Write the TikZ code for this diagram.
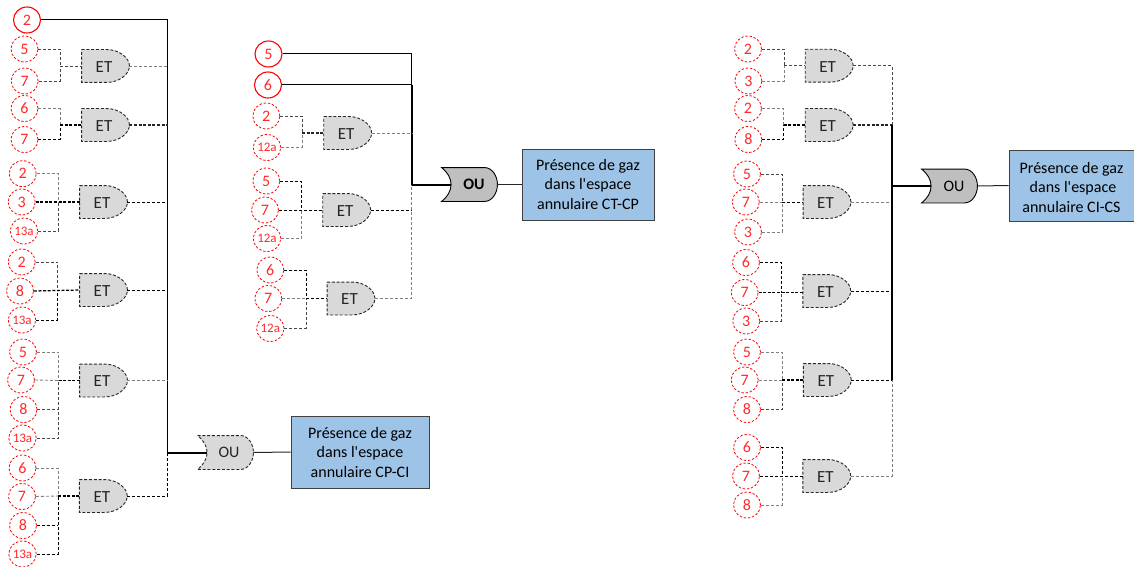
\documentclass[tikz,border=0pt]{standalone}
\usepackage{fontspec}
\setmainfont{Carlito}[Ligatures=TeXOff]
\usetikzlibrary{shapes.geometric}
\makeatletter
\newcommand{\gatecorners}{%
  \southwest \edef\gxa{\the\pgf@x}\edef\gya{\the\pgf@y}%
  \northeast \edef\gxb{\the\pgf@x}\edef\gyb{\the\pgf@y}%
  \pgfmathsetmacro{\gyc}{.5*\gya+.5*\gyb}%
  \edef\gyc{\gyc pt}%
}
\pgfdeclareshape{andgate}{
  \inheritsavedanchors[from=rectangle]
  \inheritanchorborder[from=rectangle]
  \inheritanchor[from=rectangle]{center}
  \inheritanchor[from=rectangle]{west}
  \inheritanchor[from=rectangle]{east}
  \backgroundpath{
    \gatecorners
    \pgfpathmoveto{\pgfpoint{\gxa}{\gyb}}
    \pgfpathlineto{\pgfpoint{\gxa+25pt}{\gyb}}
    \pgfpathcurveto{\pgfpoint{\gxb-10pt}{\gyb}}{\pgfpoint{\gxb}{\gyc+8pt}}{\pgfpoint{\gxb}{\gyc}}
    \pgfpathcurveto{\pgfpoint{\gxb}{\gyc-8pt}}{\pgfpoint{\gxb-10pt}{\gya}}{\pgfpoint{\gxa+25pt}{\gya}}
    \pgfpathlineto{\pgfpoint{\gxa}{\gya}}
    \pgfpathclose
  }
}
\pgfdeclareshape{orgate}{
  \inheritsavedanchors[from=rectangle]
  \inheritanchorborder[from=rectangle]
  \inheritanchor[from=rectangle]{center}
  \inheritanchor[from=rectangle]{west}
  \inheritanchor[from=rectangle]{east}
  \anchor{in}{
    \southwest \pgf@xa=\pgf@x \pgf@ya=\pgf@y
    \northeast \pgf@y=.5\pgf@y \advance\pgf@y by .5\pgf@ya
    \pgf@x=\pgf@xa \advance\pgf@x by 9.5pt
  }
  \backgroundpath{
    \gatecorners
    \pgfpathmoveto{\pgfpoint{\gxa}{\gyb}}
    \pgfpathlineto{\pgfpoint{\gxb-13pt}{\gyb}}
    \pgfpathcurveto{\pgfpoint{\gxb-5pt}{\gyb}}{\pgfpoint{\gxb}{\gyc+8pt}}{\pgfpoint{\gxb}{\gyc}}
    \pgfpathcurveto{\pgfpoint{\gxb}{\gyc-8pt}}{\pgfpoint{\gxb-5pt}{\gya}}{\pgfpoint{\gxb-13pt}{\gya}}
    \pgfpathlineto{\pgfpoint{\gxa}{\gya}}
    \pgfpathcurveto{\pgfpoint{\gxa+12.7pt}{\gya+10pt}}{\pgfpoint{\gxa+12.7pt}{\gyb-10pt}}{\pgfpoint{\gxa}{\gyb}}
    \pgfpathclose
  }
}
\makeatother
\definecolor{redc}{HTML}{FF0000}
\definecolor{redt}{HTML}{FF2A2A}
\definecolor{gatef}{HTML}{D9D9D9}
\definecolor{orf}{HTML}{BFBFBF}
\definecolor{boxf}{HTML}{9DC3E6}
\definecolor{boxb}{HTML}{404040}
\definecolor{inkc}{HTML}{262626}
\definecolor{wgrey}{HTML}{808080}
\tikzset{
  x=1pt,y=-1pt,
  evt/.style={ellipse,draw=redc,fill=white,line width=0.8pt,minimum width=27pt,minimum height=26pt,inner sep=0pt,text=redt,font=\fontsize{16}{16}\selectfont},
  evts/.style={evt,font=\fontsize{13}{13}\selectfont},
  base/.style={evt,line width=1.1pt},
  inter/.style={evt,dash pattern=on 2.4pt off 1.8pt},
  inters/.style={evts,dash pattern=on 2.4pt off 1.8pt},
  etgate/.style={andgate,draw=inkc,fill=gatef,line width=0.9pt,dash pattern=on 3pt off 1.8pt,minimum width=47pt,minimum height=32pt,inner sep=0pt,text=inkc,font=\fontsize{17}{17}\selectfont,execute at begin node={\rule{0pt}{12.9pt}},execute at end node={\hspace*{3pt}}},
  ougate/.style={orgate,draw=black,fill=orf,line width=0.9pt,minimum width=55pt,minimum height=33pt,inner sep=0pt,text=black,font=\fontsize{16}{16}\selectfont},
  result/.style={draw=boxb,fill=boxf,line width=1pt,align=center,inner sep=0pt,text=black,font=\fontsize{16}{19.5}\selectfont},
  wk/.style={draw=black,line width=0.9pt,dash pattern=on 3pt off 2pt},
  wkk/.style={draw=black,line width=1.25pt,dash pattern=on 3pt off 1.6pt},
  wd/.style={draw=inkc!85!white,line width=0.9pt,dash pattern=on 3pt off 2pt},
  wg/.style={draw=wgrey,line width=0.9pt,dash pattern=on 3pt off 2pt},
  solidw/.style={draw=black,line width=1pt},
  busw/.style={draw=black,line width=1.6pt},
  feedw/.style={draw=black,line width=2pt},
}
\begin{document}
\begin{tikzpicture}
\clip (0,0) rectangle (1134,567);
\fill[white] (0,0) rectangle (1134,567);

% ---------- Panel 1
\node[base]  (a0) at (27,20) {2};
\node[inter] (a1) at (24.5,49) {5};
\node[inter] (a2) at (24.7,81) {7};
\node[inter] (a3) at (24.5,108.5) {6};
\node[inter] (a4) at (24.5,139.5) {7};
\node[inter] (a5) at (22.7,173.7) {2};
\node[inter] (a6) at (21.7,202) {3};
\node[inters] (a7) at (24,231) {13a};
\node[inter] (a8) at (21.7,262) {2};
\node[inter] (a9) at (20,291) {8};
\node[inters] (a10) at (22,320) {13a};
\node[inter] (a11) at (23,352) {5};
\node[inter] (a12) at (21,380) {7};
\node[inter] (a13) at (23.5,409.5) {8};
\node[inters] (a14) at (22.5,438) {13a};
\node[inter] (a15) at (22.5,468) {6};
\node[inter] (a16) at (22,496.5) {7};
\node[inter] (a17) at (23,525.5) {8};
\node[inters] (a18) at (22.5,554) {13a};

\node[etgate] (ag1) at (105.5,66) {ET};
\node[etgate] (ag2) at (105.5,125) {ET};
\node[etgate] (ag3) at (103.5,202) {ET};
\node[etgate] (ag4) at (103.5,290) {ET};
\node[etgate] (ag5) at (103.5,380.5) {ET};
\node[etgate] (ag6) at (103.3,496) {ET};
\node[ougate,dash pattern=on 3pt off 1.8pt,draw=inkc,fill=gatef,text=inkc] (aou) at (225.5,452.5) {\hspace*{7pt}OU};
\node[result,minimum width=138pt,minimum height=72pt] (abox) at (360,452) {Présence de gaz\\dans l'espace\\annulaire CP-CI};

\coordinate (aj1) at (60,66);
\coordinate (aj2) at (60,125);
\coordinate (aj3) at (58.5,202);
\coordinate (aj4) at (57.5,290);
\coordinate (aj5) at (58.5,380.5);
\coordinate (aj6) at (58,496);
\coordinate (abus) at (167.5,452.5);

\draw[wd] (a1.east) -| (aj1);
\draw[wd] (a2.east) -| (aj1);
\draw[wd] (aj1) -- (ag1.west);
\draw[wg] (a3.east) -| (aj2);
\draw[wk] (a4.east) -| (aj2);
\draw[wkk] (aj2) -- (ag2.west);
\draw[wg] (a5.east) -| (aj3);
\draw[wd] (a7.east) -| (aj3);
\draw[wkk] (a6.east) -- (ag3.west);
\draw[wd] (a8.east) -| (aj4);
\draw[wk] (a10.east) -| (aj4);
\draw[wkk] (a9.east) -- (ag4.west);
\draw[wg] (a11.east) -| (aj5);
\draw[wd] (a13.east) -- (aj5 |- a13.east);
\draw[wd] (a14.east) -| (aj5);
\draw[wg] (a12.east) -- (aj5);
\draw[wkk] (aj5) -- (ag5.west);
\draw[wg] (a15.east) -| (aj6);
\draw[wk] (a17.east) -- (aj6 |- a17.east);
\draw[wk] (a18.east) -| (aj6);
\draw[wg] (a16.east) -- (aj6);
\draw[wkk] (aj6) -- (ag6.west);

\draw[solidw] (a0.east) -| (abus |- ag1.east);
\draw[busw] (abus |- ag1.east) -- (abus);
\draw[feedw] (abus) -- (aou.in);
\draw[wg] (ag1.east) -- (abus |- ag1.east);
\draw[wkk,draw=inkc] (ag2.east) -- (abus |- ag2.east);
\draw[wk] (ag3.east) -- (abus |- ag3.east);
\draw[wk] (ag4.east) -- (abus |- ag4.east);
\draw[wg] (ag5.east) -- (abus |- ag5.east);
\draw[wk] (ag6.east) -| (abus);
\draw[solidw,draw=inkc] (aou.east) -- (abox.west);

% ---------- Panel 2
\node[base]  (b1) at (268.5,54) {5};
\node[base]  (b2) at (268,85) {6};
\node[inter] (b3) at (266.3,116) {2};
\node[inters] (b4) at (267,147.5) {12a};
\node[inter] (b5) at (266.3,181) {5};
\node[inter] (b6) at (265,210) {7};
\node[inters] (b7) at (267,238.5) {12a};
\node[inter] (b8) at (270.3,270) {6};
\node[inter] (b9) at (268.3,298.5) {7};
\node[inters] (b10) at (270.3,328.5) {12a};

\node[etgate] (bg1) at (347.7,133) {ET};
\node[etgate] (bg2) at (346.7,210) {ET};
\node[etgate] (bg3) at (351,298.5) {ET};
\node[ougate,font=\fontsize{16}{16}\selectfont\bfseries] (bou) at (469.5,184.5) {\hspace*{9pt}OU};
\node[result,minimum width=132pt,minimum height=71pt] (bbox) at (588,184.5) {Présence de gaz\\dans l'espace\\annulaire CT-CP};

\coordinate (bj1) at (302,133);
\coordinate (bj2) at (301.7,210);
\coordinate (bj3) at (306,298.5);
\coordinate (bbus) at (411.7,184.5);

\draw[wd] (b3.east) -| (bj1);
\draw[wg] (b4.east) -| (bj1);
\draw[wkk,draw=inkc] (bj1) -- (bg1.west);
\draw[wk] (b5.east) -| (bj2);
\draw[wg] (b7.east) -| (bj2);
\draw[wk] (b6.east) -- (bg2.west);
\draw[wk] (b8.east) -| (bj3);
\draw[wd] (b10.east) -| (bj3);
\draw[wg] (b9.east) -- (bj3);
\draw[wk] (bj3) -- (bg3.west);

\draw[solidw] (b1.east) -| (bbus |- b2.east);
\draw[solidw] (b2.east) -- (bbus |- b2.east);
\draw[busw] (bbus |- b2.east) -- (bbus);
\draw[feedw] (bbus) -- (bou.in);
\draw[wg] (bg1.east) -- (bbus |- bg1.east);
\draw[wk] (bg2.east) -- (bbus |- bg2.east);
\draw[wg] (bg3.east) -| (bbus);
\draw[solidw,draw=inkc] (bou.east) -- (bbox.west);

% ---------- Panel 3
\node[inter] (c1) at (748,49) {2};
\node[inter] (c2) at (748.3,81) {3};
\node[inter] (c3) at (748,108.5) {2};
\node[inter] (c4) at (748.3,139.5) {8};
\node[inter] (c5) at (747,174) {5};
\node[inter] (c6) at (745.8,202) {7};
\node[inter] (c7) at (748,232) {3};
\node[inter] (c8) at (746,262.5) {6};
\node[inter] (c9) at (744.7,292.5) {7};
\node[inter] (c10) at (746.2,321) {3};
\node[inter] (c11) at (747,352) {5};
\node[inter] (c12) at (744.7,380) {7};
\node[inter] (c13) at (747,409.5) {8};
\node[inter] (c14) at (747,447.5) {6};
\node[inter] (c15) at (746,476) {7};
\node[inter] (c16) at (747,505) {8};

\node[etgate] (cg1) at (829.2,65.7) {ET};
\node[etgate] (cg2) at (829.2,125) {ET};
\node[etgate] (cg3) at (827,202) {ET};
\node[etgate] (cg4) at (826.8,291) {ET};
\node[etgate] (cg5) at (827.3,380) {ET};
\node[etgate] (cg6) at (826.8,476) {ET};
\node[ougate] (cou) at (949.5,186) {\hspace*{9pt}OU};
\node[result,minimum width=128pt,minimum height=71pt] (cbox) at (1073,185.5) {\rule{0pt}{15pt}Présence de gaz\hspace*{3pt}\\dans l'espace\hspace*{3pt}\\annulaire CI-CS\hspace*{3pt}};

\coordinate (cj1) at (784,65.7);
\coordinate (cj2) at (783.5,125);
\coordinate (cj3) at (782,202);
\coordinate (cj4) at (781.5,292.5);
\coordinate (cj5) at (782,380);
\coordinate (cj6) at (782,476);
\coordinate (cbus) at (892,186);

\draw[wd] (c1.east) -| (cj1);
\draw[wg] (c2.east) -| (cj1);
\draw[wd] (cj1) -- (cg1.west);
\draw[wg] (c3.east) -| (cj2);
\draw[wk] (c4.east) -| (cj2);
\draw[wkk] (cj2) -- (cg2.west);
\draw[wd] (c5.east) -| (cj3);
\draw[wg] (c7.east) -| (cj3);
\draw[wg] (c6.east) -- (cj3);
\draw[wk] (cj3) -- (cg3.west);
\draw[wk] (c8.east) -| (cj4);
\draw[wd] (c10.east) -| (cj4);
\draw[wkk] (c9.east) -- (cj4 -| cg4.west);
\draw[wg] (c11.east) -| (cj5);
\draw[wd] (c13.east) -| (cj5);
\draw[wg] (c12.east) -- (cj5);
\draw[wkk] (cj5) -- (cg5.west);
\draw[wk] (c14.east) -| (cj6);
\draw[wg] (c16.east) -| (cj6);
\draw[wk] (c15.east) -- (cg6.west);

\draw[wd] (cg1.east) -| (cbus |- cg2.east);
\draw[wkk,draw=inkc] (cg2.east) -- (cbus |- cg2.east);
\draw[wg] (cg3.east) -- (cbus |- cg3.east);
\draw[wk] (cg4.east) -- (cbus |- cg4.east);
\draw[wk] (cg5.east) -- (cbus |- cg5.east);
\draw[wg] (cg6.east) -| (cbus |- cg5.east);
\draw[solidw,line width=1.1pt] (cbus |- cg2.east) -- (cbus |- cg5.east);
\draw[feedw] (cbus) -- (cou.in);
\draw[solidw,draw=inkc] (cou.east) -- (cbox.west);
\end{tikzpicture}
\end{document}
